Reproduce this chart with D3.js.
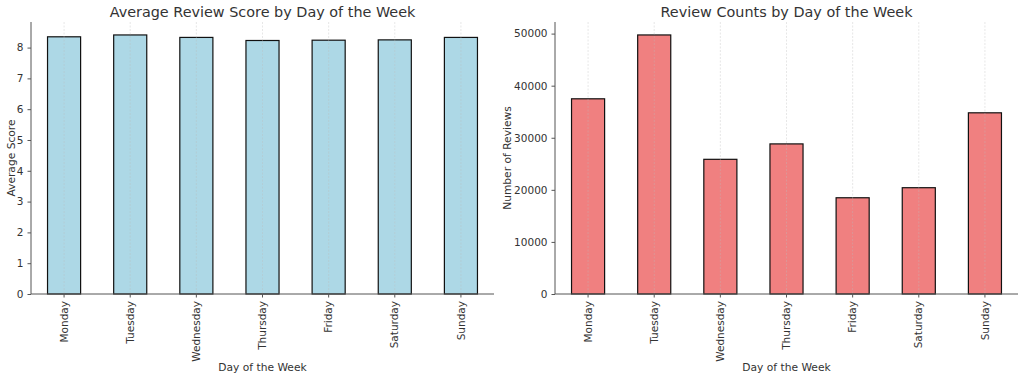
<!DOCTYPE html>
<html>
<head>
<meta charset="utf-8">
<script src="https://cdn.jsdelivr.net/npm/d3@7"></script>
<style>
  body { margin: 0; background: #fff; }
  text { font-family: "DejaVu Sans", sans-serif; fill: #333; }
</style>
</head>
<body>
<svg id="svg"></svg>
<script>
const days = ["Monday", "Tuesday", "Wednesday", "Thursday", "Friday", "Saturday", "Sunday"];
const avgScore = [8.35, 8.41, 8.33, 8.23, 8.24, 8.25, 8.33];
const reviewCounts = [37480, 49740, 25860, 28820, 18480, 20410, 34790];
const scoreTicks = [0, 1, 2, 3, 4, 5, 6, 7, 8];
const countTicks = [0, 10000, 20000, 30000, 40000, 50000];

const W = 1024, H = 380;
const svg = d3.select("#svg").attr("width", W).attr("height", H);

// one panel (matplotlib-like bar chart)
function panel(opt) {
    const { left, right, top, bottom, values, ticks, fill, title, ylabel, ylabelX } = opt;
    const g = svg.append("g");

    const x = d3.scaleBand().domain(days).range([left, right]).paddingInner(0.5).paddingOuter(0.25);
    const y = d3.scaleLinear().domain([0, d3.max(values) * 1.05]).range([bottom, top]);

    // bars
    g.selectAll("rect.bar").data(values).enter().append("rect")
        .attr("class", "bar")
        .attr("x", (d, i) => x(days[i]))
        .attr("y", d => y(d))
        .attr("width", x.bandwidth())
        .attr("height", d => bottom - y(d))
        .attr("fill", fill)
        .attr("stroke", "#111")
        .attr("stroke-width", 1.2);

    // vertical grid (over bars)
    g.selectAll("line.grid").data(days).enter().append("line")
        .attr("class", "grid")
        .attr("x1", d => x(d) + x.bandwidth() / 2)
        .attr("x2", d => x(d) + x.bandwidth() / 2)
        .attr("y1", top)
        .attr("y2", bottom)
        .attr("stroke", "#bbb")
        .attr("stroke-opacity", 0.45)
        .attr("stroke-width", 0.8)
        .attr("stroke-dasharray", "2,1.5");

    // y axis
    const yAxis = g.append("g")
        .attr("transform", `translate(${left},0)`)
        .call(d3.axisLeft(y).tickValues(ticks).tickSize(3.5).tickPadding(4).tickFormat(d3.format("d")));
    yAxis.select(".domain").remove();
    yAxis.selectAll(".tick line").attr("stroke", "#555");
    yAxis.selectAll(".tick text").style("font-size", "10.5px").attr("fill", "#333");

    // x axis
    const xAxis = g.append("g")
        .attr("transform", `translate(0,${bottom})`)
        .call(d3.axisBottom(x).tickSize(3.5).tickPadding(4));
    xAxis.select(".domain").remove();
    xAxis.selectAll(".tick line").attr("stroke", "#555");
    xAxis.selectAll(".tick text")
        .style("font-size", "10.5px")
        .attr("fill", "#333")
        .attr("transform", "rotate(-90)")
        .attr("text-anchor", "end")
        .attr("x", -7)
        .attr("y", 0)
        .attr("dy", "0.35em");

    // spines
    g.append("line").attr("x1", left).attr("x2", left).attr("y1", top).attr("y2", bottom)
        .attr("stroke", "#555").attr("stroke-width", 1);
    g.append("line").attr("x1", left).attr("x2", right).attr("y1", bottom).attr("y2", bottom)
        .attr("stroke", "#555").attr("stroke-width", 1);

    // title + labels
    g.append("text")
        .attr("x", (left + right) / 2)
        .attr("y", 17)
        .attr("text-anchor", "middle")
        .style("font-size", "14.4px")
        .text(title);
    g.append("text")
        .attr("x", (left + right) / 2)
        .attr("y", 371)
        .attr("text-anchor", "middle")
        .style("font-size", "10.7px")
        .text("Day of the Week");
    g.append("text")
        .attr("transform", `translate(${ylabelX},${(top + bottom) / 2}) rotate(-90)`)
        .attr("text-anchor", "middle")
        .style("font-size", "10.7px")
        .text(ylabel);
}

panel({
    left: 31, right: 494, top: 22, bottom: 294,
    values: avgScore, ticks: scoreTicks, fill: "#add8e6",
    title: "Average Review Score by Day of the Week",
    ylabel: "Average Score", ylabelX: 15
});

panel({
    left: 555, right: 1018, top: 22, bottom: 294,
    values: reviewCounts, ticks: countTicks, fill: "#f08080",
    title: "Review Counts by Day of the Week",
    ylabel: "Number of Reviews", ylabelX: 511
});
</script>
</body>
</html>
